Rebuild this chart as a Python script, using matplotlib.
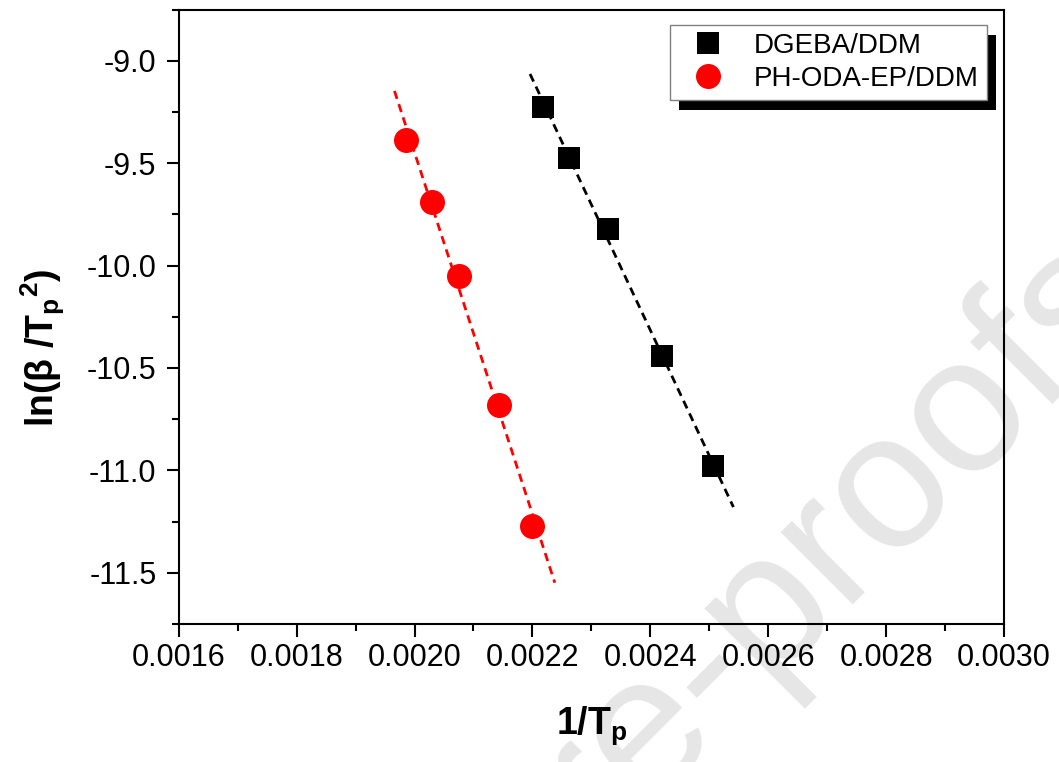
import numpy as np
import matplotlib
matplotlib.use('Agg')
import matplotlib.pyplot as plt
from matplotlib.patches import Rectangle
from matplotlib.transforms import IdentityTransform
from matplotlib.ticker import MultipleLocator, FormatStrFormatter

plt.rcParams.update({
    'font.family': 'Liberation Sans',
    'mathtext.fontset': 'custom',
    'mathtext.rm': 'Liberation Sans',
    'mathtext.bf': 'Liberation Sans:bold',
    'axes.linewidth': 1.5,
})

# data
x_dgeba = [0.002218, 0.002262, 0.002329, 0.002419, 0.002506]
y_dgeba = [-9.227, -9.476, -9.822, -10.440, -10.980]
x_ph = [0.001986, 0.002030, 0.002076, 0.002144, 0.002200]
y_ph = [-9.389, -9.692, -10.052, -10.680, -11.274]
# x-span of the fitted lines
fit_span_dgeba = [0.002196, 0.002541]
fit_span_ph = [0.001966, 0.002238]

fig = plt.figure(figsize=(10.59, 7.62), dpi=100)
ax = fig.add_axes([178.7 / 1059, 1 - 624 / 762, 825.3 / 1059, 614.5 / 762])
ax.set_facecolor('none')

# linear fits
for xs, ys, span, c in [(x_dgeba, y_dgeba, fit_span_dgeba, 'black'),
                        (x_ph, y_ph, fit_span_ph, 'red')]:
    k, b = np.polyfit(xs, ys, 1)
    xf = np.array(span)
    ax.plot(xf, k * xf + b, color=c, lw=2, dashes=(3, 2), zorder=2)

ax.plot(x_dgeba, y_dgeba, 's', color='black', ms=16, mec='black', mew=0,
        ls='none', label='DGEBA/DDM', zorder=3)
ax.plot(x_ph, y_ph, 'o', color='red', ms=18, mew=0,
        ls='none', label='PH-ODA-EP/DDM', zorder=3)

ax.set_xlim(0.0016, 0.0030)
ax.set_ylim(-11.75, -8.75)
ax.xaxis.set_major_locator(MultipleLocator(0.0002))
ax.xaxis.set_minor_locator(MultipleLocator(0.0001))
ax.yaxis.set_major_locator(MultipleLocator(0.5))
ax.yaxis.set_minor_locator(MultipleLocator(0.25))
ax.xaxis.set_major_formatter(FormatStrFormatter('%.4f'))
ax.yaxis.set_major_formatter(FormatStrFormatter('%.1f'))
ax.tick_params(which='both', direction='out', top=False, right=False, width=1.5)
ax.tick_params(which='major', length=9, labelsize=22)
ax.tick_params(which='minor', length=5)
ax.tick_params(axis='x', which='major', pad=5)
ax.tick_params(axis='y', which='major', pad=7)

ax.set_xlabel(r'1/T$_\mathbf{p}$', fontsize=27, fontweight='bold')
ax.set_ylabel(r'ln($\mathbf{\beta}$ /T$_\mathbf{p}$$^\mathbf{2}$)', fontsize=27, fontweight='bold')
ax.xaxis.set_label_coords(0.5, -0.13)
ax.yaxis.set_label_coords(-0.135, 0.45)

leg = ax.legend(loc='upper right', bbox_to_anchor=(0.979, 0.975), borderaxespad=0,
                fontsize=20, frameon=True, fancybox=False, framealpha=1,
                edgecolor='gray', borderpad=0.3, labelspacing=0.25,
                handletextpad=0.6, handlelength=2.1)
leg.get_frame().set_linewidth(1.0)
leg.set_zorder(6)

# legend drop shadow
fig.canvas.draw()
bb = leg.get_window_extent()
shadow = Rectangle((bb.x0 + 9, bb.y0 - 10), bb.width, bb.height,
                   transform=IdentityTransform(), facecolor='black',
                   edgecolor='none', zorder=5, clip_on=False)
ax.add_artist(shadow)

# watermark
fig.text(1.084, 0.593, 'Journal Pre-proofs', fontsize=139, color='#e6e6e6',
         rotation=45, rotation_mode='anchor', ha='right', va='baseline',
         zorder=-1)

fig.savefig('out.png', dpi=100)
